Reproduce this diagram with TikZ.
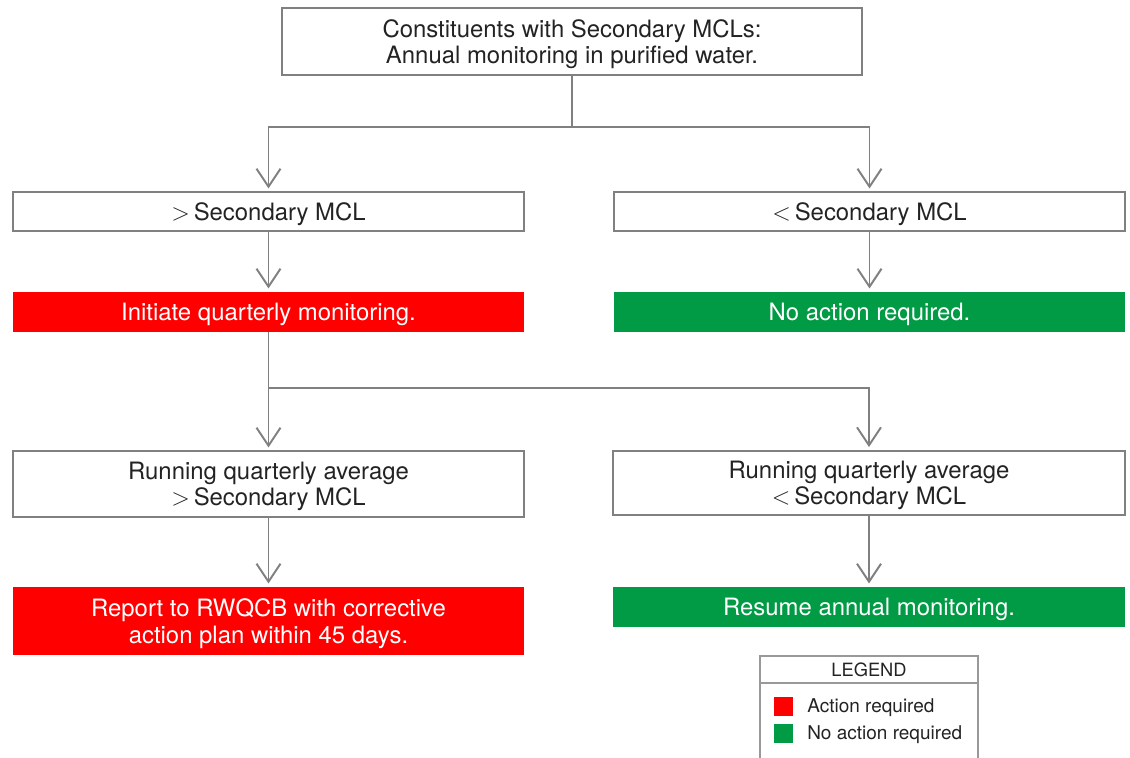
\documentclass[tikz,border=0pt]{standalone}
\usepackage{fontspec}
\setmainfont{TeX Gyre Heros}
\usetikzlibrary{arrows.meta}

\definecolor{linegray}{RGB}{128,128,128}
\definecolor{actred}{RGB}{255,0,0}
\definecolor{okgreen}{RGB}{0,155,68}
\definecolor{textgray}{RGB}{35,35,35}

\tikzset{
  box/.style={draw=linegray, line width=1.4pt, fill=white, text=textgray,
    inner sep=0pt, outer sep=0pt, minimum width=12.775cm, minimum height=0.975cm,
    text depth=0pt, align=center, font=\fontsize{17}{18.8}\selectfont},
  actbox/.style={box, draw=none, fill=actred, text=white},
  okbox/.style={box, draw=none, fill=okgreen, text=white},
  flow/.style={draw=linegray, line width=1.4pt},
  arr/.style={flow, -{Straight Barb[length=0.45cm, width=0.6cm]}, shorten >=2.5pt},
  keysq/.style={inner sep=0pt, minimum size=0.475cm},
  keytext/.style={anchor=west, inner sep=0pt, text depth=0pt, text=textgray,
    font=\fontsize{13.5}{15}\selectfont}
}

\begin{document}
\begin{tikzpicture}[x=0.025cm, y=-0.025cm]
  \useasboundingbox (0,0) rectangle (1130,757);

  % top statement
  \node[box, minimum width=14.5cm, minimum height=1.675cm] (top) at (572,41.5)
    {Constituents with Secondary MCLs:\\Annual monitoring in purified water.};

  % first comparison
  \node[box] (gt) at (268.5,211.5) {$>$\,Secondary MCL};
  \node[box] (lt) at (869.5,211.5) {$<$\,Secondary MCL};
  \node[actbox, minimum height=1cm] (quarterly) at (268.5,312) {Initiate quarterly monitoring.};
  \node[okbox, minimum height=1cm] (noaction) at (869.5,312) {No action required.};

  % running average
  \node[box, minimum height=1.65cm] (avggt) at (268.5,484)
    {Running quarterly average\\$>$\,Secondary MCL};
  \node[box, minimum height=1.62cm] (avglt) at (869,483)
    {Running quarterly average\\$<$\,Secondary MCL};
  \node[actbox, minimum height=1.7cm] (report) at (268.5,621)
    {Report to RWQCB with corrective\\action plan within 45 days.};
  \node[okbox, minimum height=1cm] (resume) at (869,607) {Resume annual monitoring.};

  % connectors
  \draw[flow] (top.south) -- (top.south |- 0,127) coordinate (split1);
  \draw[arr] (split1) -| (gt.north);
  \draw[arr] (split1) -| (lt.north);
  \draw[arr] (gt) -- (quarterly);
  \draw[arr] (lt) -- (noaction);
  \draw[arr] (quarterly) -- (avggt);
  \coordinate (split2) at (quarterly.south |- 0,388);
  \draw[arr] (split2) -| (avglt.north);
  \draw[arr] (avggt) -- (report);
  \draw[arr] (avglt) -- (resume);

  % legend
  \draw[draw=linegray!80, line width=1pt] (760,760) |- (978,656) -- (978,760);
  \draw[draw=linegray!80, line width=1pt] (760,683) -- (978,683);
  \node[text=textgray, font=\fontsize{13}{15}\selectfont] (legend) at (869,670) {LEGEND};
  \node[keysq, fill=actred] (keyact) at (783.5,706) {};
  \node[keytext] (keyacttext) at (807,706) {Action required};
  \node[keysq, fill=okgreen] (keyok) at (783.5,733) {};
  \node[keytext] (keyoktext) at (807,733) {No action required};
\end{tikzpicture}
\end{document}
